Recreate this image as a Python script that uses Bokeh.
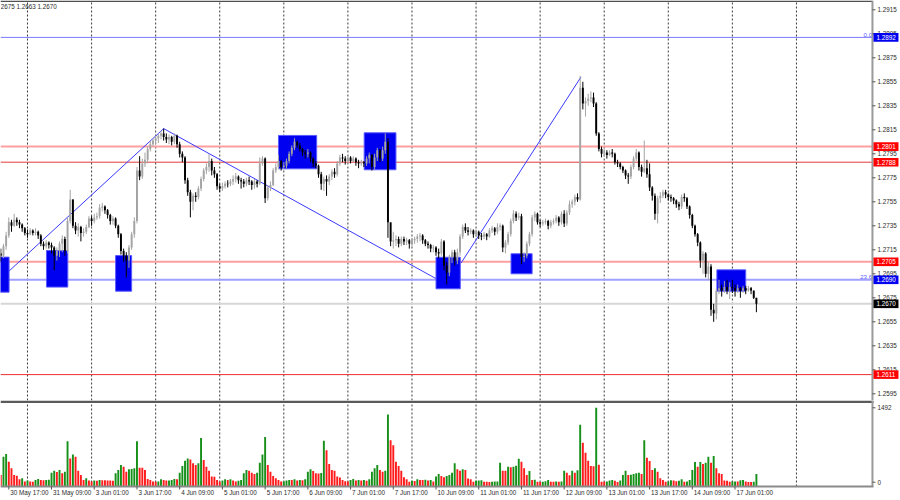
from bokeh.plotting import figure
from bokeh.layouts import column
from bokeh.models import Range1d
from bokeh.core.properties import value
from bokeh.embed import file_html
from bokeh.resources import INLINE

FONT = "Liberation Sans"

# ---------------- data (H1 bars, index = hours counted from 30 May 00:00, trading hours only)
first_bar = 14
first_open = 1.2712
close = [
    1.2710, 1.2718, 1.2727, 1.2738, 1.2735, 1.2740, 1.2738, 1.2736, 1.2733, 1.2729,
    1.2728, 1.2731, 1.2729, 1.2730, 1.2727, 1.2720, 1.2718, 1.2721, 1.2719, 1.2717,
    1.2710, 1.2714, 1.2720, 1.2724, 1.2714, 1.2739, 1.2757, 1.2735, 1.2731, 1.2734,
    1.2729, 1.2730, 1.2734, 1.2741, 1.2739, 1.2742, 1.2743, 1.2750, 1.2751, 1.2748,
    1.2744, 1.2739, 1.2741, 1.2735, 1.2728, 1.2714, 1.2710, 1.2706, 1.2717, 1.2728,
    1.2739, 1.2781, 1.2776, 1.2787, 1.2790, 1.2799, 1.2803, 1.2806, 1.2808, 1.2810,
    1.2812, 1.2809, 1.2807, 1.2809, 1.2805, 1.2810, 1.2803, 1.2795, 1.2792, 1.2773,
    1.2763, 1.2755, 1.2760, 1.2759, 1.2766, 1.2774, 1.2781, 1.2784, 1.2789, 1.2781,
    1.2778, 1.2768, 1.2766, 1.2768, 1.2770, 1.2770, 1.2772, 1.2774, 1.2776, 1.2773,
    1.2772, 1.2770, 1.2773, 1.2772, 1.2769, 1.2772, 1.2770, 1.2787, 1.2791, 1.2758,
    1.2767, 1.2769, 1.2781, 1.2784, 1.2789, 1.2784, 1.2785, 1.2789, 1.2795, 1.2800,
    1.2805, 1.2802, 1.2799, 1.2796, 1.2795, 1.2796, 1.2791, 1.2787, 1.2785, 1.2778,
    1.2770, 1.2774, 1.2772, 1.2776, 1.2780, 1.2778, 1.2787, 1.2792, 1.2791, 1.2789,
    1.2792, 1.2789, 1.2791, 1.2788, 1.2787, 1.2788, 1.2787, 1.2791, 1.2794, 1.2784,
    1.2792, 1.2798, 1.2791, 1.2798, 1.2805, 1.2738, 1.2722, 1.2723, 1.2724, 1.2720,
    1.2724, 1.2722, 1.2723, 1.2720, 1.2723, 1.2724, 1.2726, 1.2727, 1.2723, 1.2720,
    1.2719, 1.2716, 1.2717, 1.2713, 1.2712, 1.2722, 1.2702, 1.2696, 1.2709, 1.2713,
    1.2706, 1.2713, 1.2726, 1.2734, 1.2731, 1.2730, 1.2731, 1.2728, 1.2730, 1.2727,
    1.2726, 1.2728, 1.2726, 1.2731, 1.2733, 1.2730, 1.2734, 1.2735, 1.2717, 1.2721,
    1.2728, 1.2739, 1.2745, 1.2742, 1.2743, 1.2709, 1.2710, 1.2720, 1.2728, 1.2742,
    1.2745, 1.2738, 1.2737, 1.2738, 1.2739, 1.2735, 1.2738, 1.2739, 1.2742, 1.2738,
    1.2745, 1.2737, 1.2746, 1.2753, 1.2755, 1.2759, 1.2757, 1.2850, 1.2837, 1.2839,
    1.2841, 1.2842, 1.2837, 1.2812, 1.2799, 1.2795, 1.2796, 1.2794, 1.2796, 1.2795,
    1.2788, 1.2787, 1.2784, 1.2781, 1.2777, 1.2776, 1.2784, 1.2791, 1.2796, 1.2784,
    1.2780, 1.2783, 1.2778, 1.2767, 1.2760, 1.2745, 1.2758, 1.2760, 1.2763, 1.2761,
    1.2759, 1.2758, 1.2756, 1.2753, 1.2751, 1.2759, 1.2758, 1.2751, 1.2744, 1.2735,
    1.2728, 1.2721, 1.2706, 1.2712, 1.2695, 1.2701, 1.2665, 1.2662, 1.2681, 1.2683,
    1.2681, 1.2684, 1.2681, 1.2684, 1.2683, 1.2681, 1.2683, 1.2681, 1.2683, 1.2681,
    1.2683, 1.2681, 1.2675, 1.2670,
]
high = [
    1.2716, 1.2720, 1.2730, 1.2742, 1.2740, 1.2745, 1.2742, 1.2740, 1.2737, 1.2734,
    1.2732, 1.2733, 1.2732, 1.2733, 1.2731, 1.2728, 1.2722, 1.2723, 1.2722, 1.2721,
    1.2718, 1.2717, 1.2722, 1.2727, 1.2726, 1.2742, 1.2765, 1.2757, 1.2738, 1.2737,
    1.2735, 1.2733, 1.2736, 1.2743, 1.2743, 1.2745, 1.2746, 1.2753, 1.2754, 1.2752,
    1.2749, 1.2745, 1.2743, 1.2742, 1.2736, 1.2729, 1.2716, 1.2713, 1.2719, 1.2730,
    1.2742, 1.2784, 1.2793, 1.2791, 1.2796, 1.2801, 1.2806, 1.2808, 1.2810, 1.2812,
    1.2814, 1.2816, 1.2812, 1.2811, 1.2810, 1.2812, 1.2811, 1.2805, 1.2797, 1.2793,
    1.2775, 1.2765, 1.2762, 1.2763, 1.2768, 1.2776, 1.2783, 1.2787, 1.2795, 1.2791,
    1.2784, 1.2779, 1.2770, 1.2771, 1.2772, 1.2773, 1.2774, 1.2777, 1.2779, 1.2777,
    1.2775, 1.2774, 1.2775, 1.2776, 1.2773, 1.2774, 1.2773, 1.2792, 1.2793, 1.2792,
    1.2769, 1.2772, 1.2783, 1.2787, 1.2794, 1.2790, 1.2788, 1.2791, 1.2797, 1.2802,
    1.2808, 1.2806, 1.2804, 1.2800, 1.2798, 1.2799, 1.2797, 1.2792, 1.2789, 1.2786,
    1.2780, 1.2776, 1.2777, 1.2778, 1.2782, 1.2783, 1.2789, 1.2794, 1.2795, 1.2793,
    1.2794, 1.2793, 1.2793, 1.2792, 1.2790, 1.2790, 1.2789, 1.2793, 1.2796, 1.2795,
    1.2795, 1.2800, 1.2799, 1.2801, 1.2812, 1.2808, 1.2737, 1.2730, 1.2727, 1.2726,
    1.2726, 1.2726, 1.2725, 1.2724, 1.2725, 1.2726, 1.2728, 1.2729, 1.2728, 1.2724,
    1.2722, 1.2720, 1.2719, 1.2718, 1.2716, 1.2724, 1.2723, 1.2705, 1.2711, 1.2715,
    1.2715, 1.2716, 1.2728, 1.2736, 1.2737, 1.2734, 1.2733, 1.2732, 1.2732, 1.2731,
    1.2729, 1.2730, 1.2729, 1.2733, 1.2735, 1.2734, 1.2737, 1.2737, 1.2736, 1.2723,
    1.2730, 1.2741, 1.2748, 1.2747, 1.2746, 1.2745, 1.2713, 1.2722, 1.2730, 1.2744,
    1.2747, 1.2746, 1.2740, 1.2740, 1.2741, 1.2740, 1.2740, 1.2741, 1.2744, 1.2743,
    1.2747, 1.2748, 1.2748, 1.2756, 1.2757, 1.2761, 1.2762, 1.2860, 1.2855, 1.2842,
    1.2845, 1.2847, 1.2846, 1.2838, 1.2813, 1.2801, 1.2799, 1.2798, 1.2798, 1.2799,
    1.2796, 1.2790, 1.2788, 1.2785, 1.2782, 1.2779, 1.2786, 1.2793, 1.2799, 1.2797,
    1.2786, 1.2806, 1.2790, 1.2787, 1.2768, 1.2762, 1.2760, 1.2763, 1.2765, 1.2765,
    1.2762, 1.2761, 1.2759, 1.2757, 1.2755, 1.2761, 1.2762, 1.2759, 1.2752, 1.2745,
    1.2736, 1.2729, 1.2722, 1.2714, 1.2713, 1.2705, 1.2703, 1.2670, 1.2683, 1.2690,
    1.2686, 1.2689, 1.2690, 1.2688, 1.2690, 1.2686, 1.2686, 1.2684, 1.2685, 1.2685,
    1.2685, 1.2684, 1.2681, 1.2675,
]
low = [
    1.2705, 1.2708, 1.2715, 1.2725, 1.2730, 1.2734, 1.2735, 1.2733, 1.2730, 1.2727,
    1.2725, 1.2727, 1.2727, 1.2727, 1.2724, 1.2718, 1.2715, 1.2716, 1.2716, 1.2712,
    1.2698, 1.2706, 1.2709, 1.2713, 1.2710, 1.2712, 1.2737, 1.2733, 1.2728, 1.2726,
    1.2722, 1.2726, 1.2728, 1.2733, 1.2735, 1.2737, 1.2740, 1.2741, 1.2747, 1.2745,
    1.2741, 1.2736, 1.2736, 1.2733, 1.2725, 1.2711, 1.2705, 1.2692, 1.2700, 1.2715,
    1.2725, 1.2737, 1.2773, 1.2774, 1.2784, 1.2787, 1.2797, 1.2801, 1.2803, 1.2804,
    1.2807, 1.2806, 1.2804, 1.2803, 1.2802, 1.2803, 1.2800, 1.2792, 1.2788, 1.2770,
    1.2760, 1.2742, 1.2748, 1.2755, 1.2757, 1.2764, 1.2772, 1.2778, 1.2780, 1.2777,
    1.2775, 1.2765, 1.2763, 1.2764, 1.2766, 1.2767, 1.2768, 1.2769, 1.2771, 1.2770,
    1.2766, 1.2767, 1.2768, 1.2769, 1.2765, 1.2766, 1.2767, 1.2769, 1.2785, 1.2754,
    1.2756, 1.2764, 1.2768, 1.2779, 1.2782, 1.2781, 1.2782, 1.2783, 1.2787, 1.2793,
    1.2798, 1.2800, 1.2797, 1.2793, 1.2791, 1.2792, 1.2788, 1.2784, 1.2783, 1.2775,
    1.2765, 1.2764, 1.2760, 1.2769, 1.2773, 1.2775, 1.2776, 1.2785, 1.2788, 1.2786,
    1.2787, 1.2787, 1.2788, 1.2785, 1.2783, 1.2785, 1.2784, 1.2785, 1.2787, 1.2781,
    1.2782, 1.2789, 1.2788, 1.2789, 1.2795, 1.2725, 1.2718, 1.2716, 1.2718, 1.2717,
    1.2718, 1.2719, 1.2719, 1.2716, 1.2718, 1.2720, 1.2721, 1.2722, 1.2720, 1.2718,
    1.2716, 1.2713, 1.2713, 1.2710, 1.2708, 1.2710, 1.2698, 1.2686, 1.2693, 1.2704,
    1.2702, 1.2703, 1.2710, 1.2724, 1.2729, 1.2727, 1.2728, 1.2725, 1.2726, 1.2724,
    1.2723, 1.2724, 1.2723, 1.2725, 1.2729, 1.2727, 1.2728, 1.2731, 1.2713, 1.2712,
    1.2719, 1.2726, 1.2737, 1.2739, 1.2740, 1.2703, 1.2705, 1.2708, 1.2718, 1.2726,
    1.2739, 1.2736, 1.2734, 1.2735, 1.2736, 1.2732, 1.2733, 1.2736, 1.2737, 1.2735,
    1.2736, 1.2734, 1.2735, 1.2744, 1.2750, 1.2752, 1.2755, 1.2756, 1.2832, 1.2826,
    1.2835, 1.2838, 1.2834, 1.2810, 1.2797, 1.2792, 1.2793, 1.2791, 1.2793, 1.2792,
    1.2786, 1.2784, 1.2782, 1.2779, 1.2774, 1.2770, 1.2774, 1.2782, 1.2789, 1.2781,
    1.2776, 1.2779, 1.2775, 1.2764, 1.2756, 1.2740, 1.2737, 1.2754, 1.2758, 1.2758,
    1.2756, 1.2755, 1.2753, 1.2750, 1.2748, 1.2749, 1.2755, 1.2749, 1.2741, 1.2733,
    1.2726, 1.2718, 1.2700, 1.2695, 1.2692, 1.2690, 1.2660, 1.2655, 1.2657, 1.2678,
    1.2676, 1.2679, 1.2678, 1.2674, 1.2679, 1.2676, 1.2679, 1.2675, 1.2679, 1.2678,
    1.2680, 1.2678, 1.2674, 1.2663,
]
volume = [
    146, 511, 564, 411, 278, 146, 130, 60, 80, 15,
    33, 12, 8, 46, 66, 46, 40, 44, 47, 192,
    232, 205, 245, 179, 212, 822, 477, 557, 510, 232,
    146, 46, 80, 33, 13, 33, 30, 46, 40, 38,
    36, 34, 30, 179, 245, 345, 312, 212, 259, 265,
    278, 822, 292, 290, 245, 66, 46, 14, 10, 13,
    60, 46, 33, 34, 46, 66, 60, 192, 325, 431,
    477, 457, 378, 345, 378, 888, 444, 312, 232, 113,
    110, 46, 10, 33, 60, 46, 60, 33, 13, 27,
    46, 179, 245, 232, 192, 166, 192, 391, 557, 908,
    345, 212, 126, 80, 46, 13, 15, 33, 46, 44,
    60, 33, 46, 40, 60, 212, 259, 225, 179, 175,
    185, 829, 643, 365, 245, 232, 113, 93, 46, 20,
    13, 46, 66, 33, 46, 33, 46, 27, 60, 212,
    278, 345, 245, 212, 232, 1359, 842, 743, 411, 325,
    232, 99, 60, 7, 27, 25, 60, 46, 44, 50,
    33, 46, 13, 113, 166, 126, 99, 126, 146, 192,
    378, 259, 232, 259, 245, 73, 60, 7, 27, 33,
    40, 10, 8, 6, 9, 13, 16, 391, 232, 230,
    312, 298, 312, 331, 471, 411, 278, 146, 225, 46,
    48, 10, 5, 8, 20, 46, 10, 8, 13, 10,
    12, 232, 192, 139, 232, 190, 240, 1154, 789, 590,
    431, 325, 320, 1492, 351, 10, 8, 13, 33, 46,
    27, 5, 33, 146, 232, 146, 150, 166, 179, 192,
    166, 842, 491, 424, 245, 280, 212, 80, 46, 8,
    12, 40, 33, 20, 27, 60, 8, 13, 46, 245,
    404, 312, 404, 365, 391, 511, 391, 524, 278, 179,
    166, 33, 27, 10, 13, 15, 12, 40, 46, 13,
    6, 4, 8, 166,
]

day_starts = [24, 48, 72, 96, 120, 144, 168, 192, 216, 240, 264, 288, 312]
date_ticks = [17, 33, 49, 65, 81, 97, 113, 129, 145, 161, 177, 193, 209, 225, 241, 257, 273, 289]
date_labels = ["30 May 17:00", "31 May 09:00", "3 Jun 01:00", "3 Jun 17:00", "4 Jun 09:00",
               "5 Jun 01:00", "5 Jun 17:00", "6 Jun 09:00", "7 Jun 01:00", "7 Jun 17:00",
               "10 Jun 09:00", "11 Jun 01:00", "11 Jun 17:00", "12 Jun 09:00", "13 Jun 01:00",
               "13 Jun 17:00", "14 Jun 09:00", "17 Jun 01:00"]
price_ticks = [1.2595, 1.2615, 1.2635, 1.2655, 1.2675, 1.2695, 1.2715, 1.2735, 1.2755,
               1.2775, 1.2795, 1.2815, 1.2835, 1.2855, 1.2875, 1.2895, 1.2915]
vol_ticks = [0, 1492]

level_prices = [1.2892, 1.2801, 1.2788, 1.2705, 1.2690, 1.2670, 1.2611]
fib_texts = ["0.0", "23.6"]
fib_prices = [1.2892, 1.2690]

zig_x0 = [15.0, 75.0, 186.4]
zig_y0 = [1.2693, 1.2816, 1.2704]
zig_x1 = [75.0, 177.0, 231.3]
zig_y1 = [1.2816, 1.2691, 1.2859]

box_left = [13.0, 31.1, 57.0, 118.0, 150.1, 177.0, 205.1, 282.2]
box_right = [17.1, 39.1, 63.0, 132.3, 162.0, 186.1, 213.0, 293.0]
box_top = [1.27089, 1.27144, 1.27102, 1.28103, 1.28125, 1.27088, 1.27117, 1.26983]
box_bottom = [1.26797, 1.26839, 1.26805, 1.27825, 1.27817, 1.26825, 1.26950, 1.26805]

info_text = "2675 1.2663 1.2670"

assert len(close) == len(high) == len(low) == len(volume)

# ---------------- styling / geometry
level_line_color = ["#7878ff", "#ff9f9f", "#e23c3c", "#ff9f9f", "#a0a0ff", "#d6d6d6", "#ee3030"]
level_line_width = [1, 2, 1, 2, 2, 2, 1]
level_tag_color = ["#0000f0", "#ff0000", "#ff0000", "#ff0000", "#0000f0", "#000000", "#ff0000"]

W = 900
MAIN_H = 400
VOL_H = 100
VOL_PLOT_H = 86            # volume panel height above the date strip
X0 = 13.888                # first visible bar position (left edge of chart)
XA = 340.47                # position of the price scale line
XE = 350.97                # right edge of the window
Y0, Y1 = 1.258942, 1.292275
V0, V1 = -86.0, 1638.0
VMIN = V0 - (VOL_H - VOL_PLOT_H) * (V1 - V0) / VOL_PLOT_H

PXX = (XE - X0) / W                 # bars per screen pixel
PXY = (Y1 - Y0) / MAIN_H            # price per screen pixel
PXV = (V1 - V0) / VOL_PLOT_H        # volume per screen pixel

TXT = "#2c2c2c"
AXC = "#9a9a9a"
FS = "6.3px"

n = len(close)
xs = [first_bar + k for k in range(n)]
opens = [first_open] + close[:-1]
bull = [c > o for o, c in zip(opens, close)]
ccol = ["#a4a4a4" if b else "#000000" for b in bull]
btop = [max(o, c) for o, c in zip(opens, close)]
bbot = [min(o, c) - (0.00003 if o == c else 0) for o, c in zip(opens, close)]
vcol = ["#ff1c1c"] + ["#17901a" if volume[k] > volume[k - 1] else "#ff1c1c" for k in range(1, n)]


def make_fig(h, yr):
    f = figure(width=W, height=h, x_range=Range1d(X0, XE), y_range=yr,
               output_backend="svg", toolbar_location=None, x_axis_location=None,
               y_axis_location=None, min_border=0, background_fill_color="white",
               border_fill_color="white", outline_line_color=None)
    f.grid.visible = False
    return f


# ---------------- main price panel
p = make_fig(MAIN_H, Range1d(Y0, Y1))

p.segment(x0=day_starts, y0=[Y0] * len(day_starts), x1=day_starts, y1=[Y1] * len(day_starts),
          line_color="#3c3c3c", line_width=1, line_dash="2 2")
p.segment(x0=[X0] * len(level_prices), y0=level_prices, x1=[XA] * len(level_prices), y1=level_prices,
          line_color=level_line_color, line_width=level_line_width)
p.segment(x0=zig_x0, y0=zig_y0, x1=zig_x1, y1=zig_y1, line_color="#3a3aff", line_width=1)
p.quad(left=box_left, right=box_right, top=box_top, bottom=box_bottom,
       fill_color="#0000f0", line_color="#5a5aff", line_width=1)
p.segment(x0=xs, y0=low, x1=xs, y1=high, line_color=ccol, line_width=1)
p.vbar(x=xs, width=0.72, top=btop, bottom=bbot, fill_color=ccol, line_color=None)

# fib level captions
p.text(x=[XA - 0.5 * PXX] * 2, y=[fp + 0.5 * PXY for fp in fib_prices], text=fib_texts,
       text_align="right", text_baseline="bottom", text_font=value(FONT),
       text_font_size="6px", text_color="#5a5aff")
# OHLC info line
p.text(x=[X0 + 0.3 * PXX], y=[Y1 - 6 * PXY], text=[info_text], text_align="left",
       text_baseline="middle", text_font=value(FONT), text_font_size=FS, text_color=TXT)

# top border
p.quad(left=[X0], right=[XA], top=[Y1], bottom=[Y1 - 1.6 * PXY], fill_color="#505050",
       line_color=None)

# price scale (right)
p.segment(x0=[XA], y0=[Y0], x1=[XA], y1=[Y1], line_color=AXC, line_width=2)
p.segment(x0=[XA] * len(price_ticks), y0=price_ticks, x1=[XA + 3 * PXX] * len(price_ticks),
          y1=price_ticks, line_color="#555555", line_width=1)
p.text(x=[XA + 5 * PXX] * len(price_ticks), y=price_ticks, text=["%.4f" % t for t in price_ticks],
       text_align="left", text_baseline="middle", text_font=value(FONT), text_font_size=FS,
       text_color=TXT)
# coloured price tags
p.quad(left=[XA + 1 * PXX] * len(level_prices), right=[XA + 26 * PXX] * len(level_prices),
       top=[lp + 4.3 * PXY for lp in level_prices], bottom=[lp - 4.3 * PXY for lp in level_prices],
       fill_color=level_tag_color, line_color=None)
p.text(x=[XA + 4 * PXX] * len(level_prices), y=level_prices,
       text=["%.4f" % lp for lp in level_prices], text_align="left", text_baseline="middle",
       text_font=value(FONT), text_font_size=FS, text_color="white")

# ---------------- volume panel
v = make_fig(VOL_H, Range1d(VMIN, V1))
v.segment(x0=day_starts, y0=[V0] * len(day_starts), x1=day_starts, y1=[V1] * len(day_starts),
          line_color="#3c3c3c", line_width=1, line_dash="2 2")
v.vbar(x=xs, width=0.72, top=volume, bottom=V0, fill_color=vcol, line_color=None)

# separator band between panels
v.quad(left=[X0], right=[XA + 1 * PXX], top=[V1], bottom=[V1 - 2.6 * PXV], fill_color="#5a5a5a",
       line_color=None)
# volume scale (right)
v.segment(x0=[XA], y0=[V0], x1=[XA], y1=[V1], line_color=AXC, line_width=2)
v.segment(x0=[XA] * len(vol_ticks), y0=vol_ticks, x1=[XA + 3 * PXX] * len(vol_ticks),
          y1=vol_ticks, line_color="#555555", line_width=1)
v.text(x=[XA + 5 * PXX] * len(vol_ticks), y=vol_ticks, text=[str(t) for t in vol_ticks],
       text_align="left", text_baseline="middle", text_font=value(FONT), text_font_size=FS,
       text_color=TXT)
# time scale (bottom)
v.segment(x0=[X0], y0=[V0], x1=[XA + 1 * PXX], y1=[V0], line_color="#8a8a8a", line_width=2)
v.segment(x0=date_ticks, y0=[V0] * len(date_ticks), x1=date_ticks,
          y1=[V0 - 3 * PXV] * len(date_ticks), line_color="#555555", line_width=1)
v.text(x=[t + 1.5 * PXX for t in date_ticks], y=[V0 - 2.5 * PXV] * len(date_ticks),
       text=date_labels, text_align="left", text_baseline="top", text_font=value(FONT),
       text_font_size=FS, text_color=TXT)

layout = column(p, v, spacing=0)
open("out.html", "w").write(file_html(layout, INLINE))
